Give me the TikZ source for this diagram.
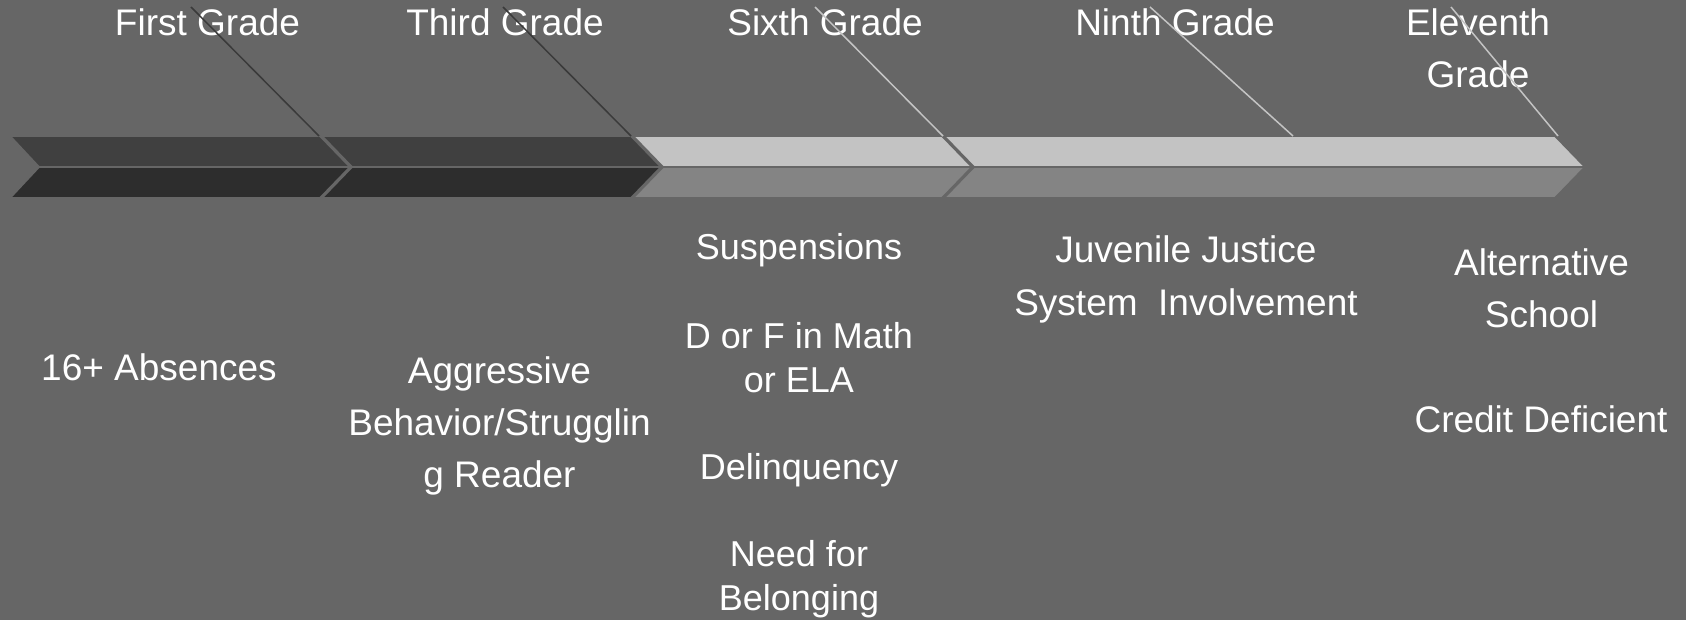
\documentclass[tikz,border=0pt]{standalone}
\usepackage{fontspec}
\setmainfont{Liberation Sans}
\definecolor{bg}{HTML}{666666}
\definecolor{darktop}{HTML}{404040}
\definecolor{darkbot}{HTML}{2D2D2D}
\definecolor{lighttop}{HTML}{C3C3C3}
\definecolor{lightbot}{HTML}{848484}
\definecolor{darkline}{HTML}{3A3A3A}
\definecolor{lightline}{HTML}{C4C4C4}
\tikzset{
  seg/.style={draw=bg, line width=1.8pt},
  lbl/.style={text=white, inner sep=0pt, anchor=base, align=center,
    font=\fontsize{37}{52}\selectfont},
  lblsix/.style={lbl, font=\fontsize{36}{44}\selectfont},
  leaddark/.style={draw=darkline, line width=1.5pt},
  leadlight/.style={draw=lightline, line width=1.5pt}
}
\begin{document}
\begin{tikzpicture}[x=1pt,y=-1pt]
\fill[bg] (0,0) rectangle (1686,620);
\useasboundingbox (0,0) rectangle (1686,620);
% chevrons
\fill[darktop,seg] (10,136)--(320,136)--(350,167)--(39,167)--cycle;
\fill[darkbot,seg] (39,167)--(350,167)--(320,198)--(10,198)--cycle;
\fill[darktop,seg] (322,136)--(631,136)--(661,167)--(352,167)--cycle;
\fill[darkbot,seg] (352,167)--(661,167)--(631,198)--(322,198)--cycle;
\fill[lighttop,seg] (633,136)--(942,136)--(972,167)--(663,167)--cycle;
\fill[lightbot,seg] (663,167)--(972,167)--(942,198)--(633,198)--cycle;
\fill[lighttop,seg] (944,136)--(1555,136)--(1585,167)--(974,167)--cycle;
\fill[lightbot,seg] (974,167)--(1585,167)--(1555,198)--(944,198)--cycle;
% corner coordinates
\coordinate (c1) at (319,136);
\coordinate (c2) at (631,136);
\coordinate (c3) at (943,136);
\coordinate (c4) at (1293,136);
\coordinate (c5) at (1558,136);
\coordinate (s1) at (191,7);
\coordinate (s2) at (503,7);
\coordinate (s3) at (815,7);
\coordinate (s4) at (1150,7);
\coordinate (s5) at (1451,7);
% titles
\node[lbl] (t1) at (207.5,35.5) {First Grade};
\node[lbl] (t2) at (505,35.5) {Third Grade};
\node[lbl] (t3) at (825,35.5) {Sixth Grade};
\node[lbl] (t4) at (1175,35.5) {Ninth Grade};
\node[lbl] (t5) at (1478,87.5) {Eleventh\\Grade};
% leader lines
\draw[leaddark] (s1) -- (c1);
\draw[leaddark] (s2) -- (c2);
\draw[leadlight] (s3) -- (c3);
\draw[leadlight] (s4) -- (c4);
\draw[leadlight] (s5) -- (c5);
% descriptions
\node[lbl] (d1) at (159,380) {16+ Absences};
\node[lbl] (d2) at (499.5,487) {Aggressive\\Behavior/Strugglin\\g Reader};
\node[lblsix] (d3a) at (799,260) {Suspensions};
\node[lblsix] (d3b) at (799,392) {D or F in Math\\or ELA};
\node[lblsix] (d3c) at (799,479) {Delinquency};
\node[lblsix] (d3d) at (799,610) {Need for\\Belonging};
\node[lbl] (d4) at (1186,315) {Juvenile Justice\\System\ \ Involvement};
\node[lbl] (d5a) at (1541.5,327) {Alternative\\School};
\node[lbl] (d5b) at (1541,432) {Credit Deficient};
\end{tikzpicture}
\end{document}
